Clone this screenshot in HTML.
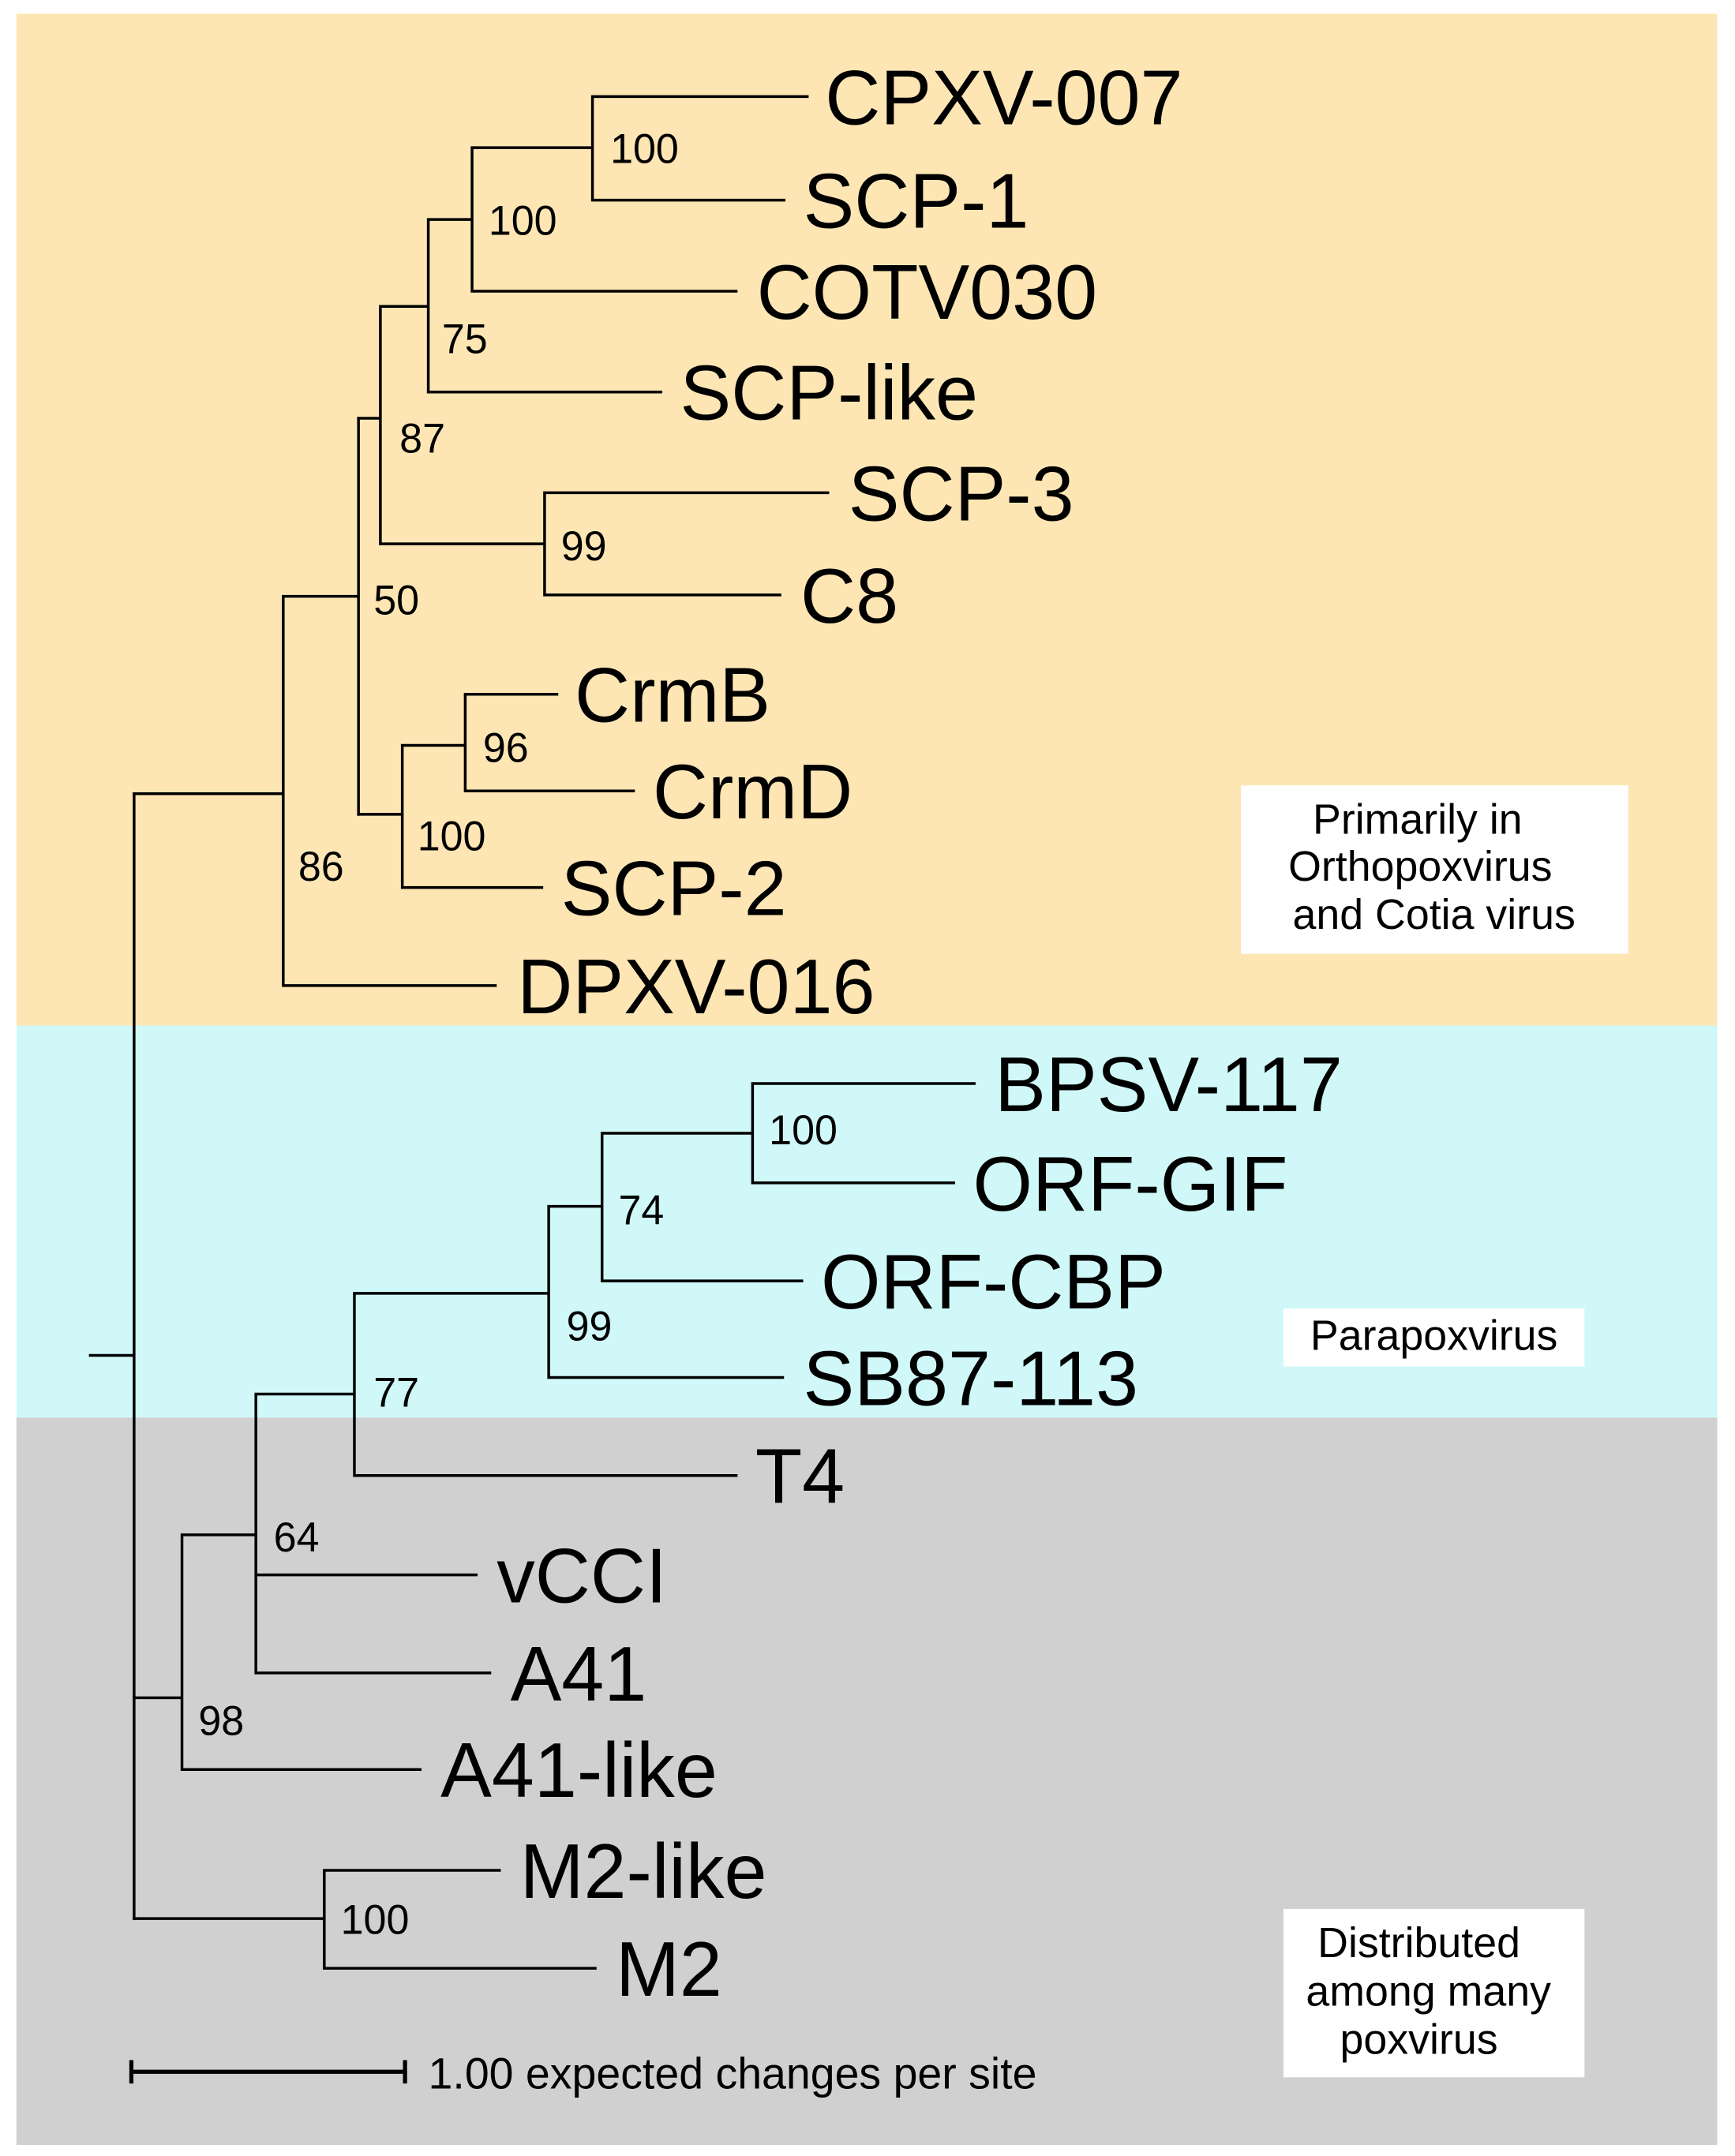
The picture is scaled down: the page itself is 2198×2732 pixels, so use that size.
<!DOCTYPE html>
<html><head><meta charset="utf-8"><style>
html,body{margin:0;padding:0;background:#fff;}
svg{display:block;}
text{font-family:"Liberation Sans",sans-serif;fill:#000;}
.lab{font-size:56px;}
.bs{font-size:30px;}
.box{font-size:31px;}
</style></head><body>
<svg width="2198" height="2732" viewBox="0 0 1268 1562" preserveAspectRatio="none" xmlns="http://www.w3.org/2000/svg">
<rect x="0" y="0" width="1268" height="1562" fill="#fff"/>
<rect x="12" y="10" width="1243" height="733" fill="#fde6b4"/>
<rect x="12" y="743" width="1243" height="284" fill="#d0f8f8"/>
<rect x="12" y="1027" width="1243" height="527" fill="#d0d0d0"/>
<g stroke="#000" stroke-width="2" fill="none" stroke-linecap="square">
<path d="M66 982H98M98 575V1390"/>
<path d="M98 575H207M207 432V714M207 714H362M207 432H262M262 303V590"/>
<path d="M262 303H278M278 222V394M278 222H313M313 159V284M313 159H345M345 107V211M345 107H433M433 70V145M433 70H590M433 145H573M345 211H538M313 284H483"/>
<path d="M278 394H398M398 357V431M398 357H605M398 431H570"/>
<path d="M262 590H294M294 540V643M294 540H340M340 503V573M340 503H407M340 573H463M294 643H396"/>
<path d="M98 1230H133M133 1112V1282M133 1112H187M187 1010V1212M187 1010H259M259 937V1069M259 937H401M401 874V998M401 874H440M440 821V928M440 821H550M550 785V857M550 785H712M550 857H697M440 928H586M401 998H572M259 1069H538M187 1141H348M187 1212H358M133 1282H307"/>
<path d="M98 1390H237M237 1355V1426M237 1355H365M237 1426H435"/>
<path d="M96 1501H296M96 1494V1508M296 1494V1508" stroke-width="3"/>
</g>
<g class="lab">
<text x="603" y="90">CPXV-007</text>
<text x="587" y="165">SCP-1</text>
<text x="553" y="231">COTV030</text>
<text x="497" y="304">SCP-like</text>
<text x="620" y="377">SCP-3</text>
<text x="585" y="451">C8</text>
<text x="420" y="523">CrmB</text>
<text x="477" y="593">CrmD</text>
<text x="410" y="663">SCP-2</text>
<text x="378" y="734">DPXV-016</text>
<text x="727" y="805">BPSV-117</text>
<text x="711" y="877">ORF-GIF</text>
<text x="600" y="948">ORF-CBP</text>
<text x="587" y="1018">SB87-113</text>
<text x="552" y="1089">T4</text>
<text x="363" y="1161">vCCI</text>
<text x="373" y="1232">A41</text>
<text x="322" y="1302">A41-like</text>
<text x="380" y="1375">M2-like</text>
<text x="450" y="1446">M2</text>
</g>
<g class="bs">
<text x="446" y="118">100</text>
<text x="357" y="170">100</text>
<text x="323" y="256">75</text>
<text x="292" y="328">87</text>
<text x="410" y="406">99</text>
<text x="273" y="445">50</text>
<text x="353" y="552">96</text>
<text x="305" y="616">100</text>
<text x="218" y="638">86</text>
<text x="562" y="829">100</text>
<text x="452" y="887">74</text>
<text x="414" y="971">99</text>
<text x="273" y="1019">77</text>
<text x="200" y="1124">64</text>
<text x="145" y="1257">98</text>
<text x="249" y="1401">100</text>
</g>
<rect x="907" y="569" width="283" height="122" fill="#fff"/>
<g class="box" text-anchor="middle">
<text x="1036" y="604">Primarily in</text>
<text x="1038" y="638">Orthopoxvirus</text>
<text x="1048" y="673">and Cotia virus</text>
</g>
<rect x="938" y="948" width="220" height="42" fill="#fff"/>
<text class="box" x="1048" y="978" text-anchor="middle">Parapoxvirus</text>
<rect x="938" y="1383" width="220" height="122" fill="#fff"/>
<g class="box" text-anchor="middle">
<text x="1037" y="1418">Distributed</text>
<text x="1044" y="1453">among many</text>
<text x="1037" y="1488">poxvirus</text>
</g>
<text x="313" y="1513" style="font-size:32px">1.00 expected changes per site</text>
</svg>
</body></html>
